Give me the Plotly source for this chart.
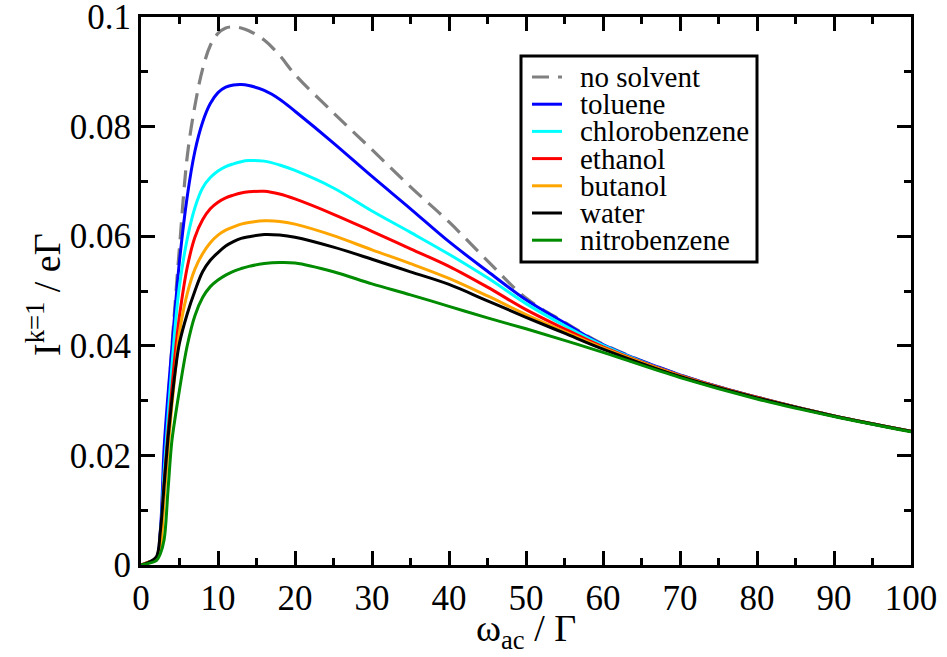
import plotly.graph_objects as go

# ---------------- data ----------------
omega = [0, 1, 2, 2.5, 3, 3.5, 4, 4.5, 5, 6, 7, 8, 9, 10, 11, 12, 13, 14, 16, 18, 20,
         25, 30, 35, 40, 45, 50, 55, 60, 70, 80, 90, 100]

no_solvent = [0, 0.0005, 0.001, 0.004, 0.0148, 0.029, 0.0395, 0.049, 0.058, 0.0745,
              0.0838, 0.0905, 0.0948, 0.0970, 0.0980, 0.0982, 0.0980, 0.0975, 0.0958,
              0.0930, 0.0895, 0.0825, 0.0758, 0.069, 0.0626, 0.0555, 0.0487, 0.0443,
              0.0403, 0.0347, 0.0306, 0.0272, 0.0244]
toluene = [0, 0.0005, 0.0012, 0.006, 0.0213, 0.031, 0.0395, 0.0478, 0.0555, 0.0672,
           0.0755, 0.0808, 0.0842, 0.0862, 0.0872, 0.0876, 0.0877, 0.0875, 0.0866,
           0.0850, 0.0828, 0.077, 0.0709, 0.065, 0.059, 0.0536, 0.0484, 0.0442,
           0.0402, 0.0347, 0.0306, 0.0272, 0.0244]
chlorobenzene = [0, 0.0005, 0.001, 0.005, 0.017, 0.027, 0.036, 0.0445, 0.051, 0.0595,
                 0.0652, 0.0688, 0.0707, 0.0719, 0.0727, 0.0732, 0.0736, 0.0738, 0.0737,
                 0.0730, 0.0720, 0.0688, 0.0646, 0.0607, 0.0567, 0.0524, 0.0477, 0.0437,
                 0.0401, 0.0346, 0.0306, 0.0272, 0.0244]
ethanol = [0, 0.0005, 0.001, 0.004, 0.015, 0.024, 0.032, 0.0395, 0.0455, 0.0543,
           0.0598, 0.0630, 0.0650, 0.0662, 0.0670, 0.0675, 0.0679, 0.0681, 0.0682,
           0.0677, 0.0668, 0.064, 0.0609, 0.0577, 0.0545, 0.0507, 0.0466, 0.0431,
           0.0398, 0.0346, 0.0306, 0.0272, 0.0244]
butanol = [0, 0.0005, 0.001, 0.003, 0.012, 0.021, 0.029, 0.036, 0.0425, 0.0495,
           0.0540, 0.0568, 0.0588, 0.0602, 0.0611, 0.0617, 0.0622, 0.0625, 0.0628,
           0.0627, 0.0622, 0.0601, 0.0575, 0.055, 0.0523, 0.0491, 0.0457, 0.0426,
           0.0396, 0.0345, 0.0305, 0.0272, 0.0244]
water = [0, 0.0005, 0.0015, 0.006, 0.0145, 0.023, 0.030, 0.036, 0.0405, 0.0458,
         0.0500, 0.0535, 0.0556, 0.0570, 0.0582, 0.0590, 0.0596, 0.0599, 0.0603,
         0.0602, 0.0598, 0.058, 0.0558, 0.0535, 0.0512, 0.0482, 0.0452, 0.0423,
         0.0394, 0.0344, 0.0305, 0.0272, 0.0244]
nitrobenzene = [0, 0.0003, 0.0008, 0.002, 0.0046, 0.0135, 0.0225, 0.0275, 0.032, 0.040,
                0.0455, 0.0488, 0.0508, 0.0520, 0.0529, 0.0536, 0.0541, 0.0545, 0.0550,
                0.0552, 0.0551, 0.0535, 0.0513, 0.0493, 0.0472, 0.0451, 0.0431, 0.041,
                0.0388, 0.0342, 0.0303, 0.0271, 0.0243]

series_names = ["no solvent", "toluene", "chlorobenzene", "ethanol", "butanol",
                "water", "nitrobenzene"]
series_values = [no_solvent, toluene, chlorobenzene, ethanol, butanol, water, nitrobenzene]
series_colors = ["#808080", "#0000ff", "#00ffff", "#ff0000", "#ffa500", "#000000", "#008b00"]
series_dash = ["17px,9px", "solid", "solid", "solid", "solid", "solid", "solid"]

x_tickvals = [0, 10, 20, 30, 40, 50, 60, 70, 80, 90, 100]
x_ticktext = ["0", "10", "20", "30", "40", "50", "60", "70", "80", "90", "100"]
y_tickvals = [0, 0.02, 0.04, 0.06, 0.08, 0.1]
y_ticktext = ["0", "0.02", "0.04", "0.06", "0.08", "0.1"]

x_title = "ω<sub>ac</sub> / Γ"
y_title = "I<sup>k=1</sup> / eΓ"

# ---------------- figure ----------------
W, H = 947, 657
ML, MR, MT, MB = 141, 36, 17, 92
FONT = "Liberation Serif"

fig = go.Figure()
for name, vals, col, dash in zip(series_names, series_values, series_colors, series_dash):
    fig.add_trace(go.Scatter(x=omega, y=vals, mode="lines", name=name,
                             line=dict(color=col, width=3.2 if dash != "solid" else 3,
                                       dash=dash, shape="spline", smoothing=1.0),
                             showlegend=False))

axis_common = dict(showline=True, linewidth=3, linecolor="black", mirror="allticks",
                   ticks="inside", ticklen=14, tickwidth=3, tickcolor="black",
                   showgrid=False, zeroline=False, ticklabeloverflow="allow",
                   automargin=False,
                   tickfont=dict(family=FONT, size=35, color="black"))

fig.update_xaxes(range=[0, 100], tickvals=x_tickvals, ticktext=x_ticktext,
                 minor=dict(ticks="inside", ticklen=7, tickwidth=3, tickcolor="black", dtick=5,
                            showgrid=False),
                 **axis_common)
fig.update_yaxes(range=[0, 0.1], tickvals=y_tickvals, ticktext=y_ticktext,
                 minor=dict(ticks="inside", ticklen=7, tickwidth=3, tickcolor="black", dtick=0.01,
                            showgrid=False),
                 **axis_common)

# ---------------- axis titles + custom legend (paper coords from pixels) ----------------
pw, ph = W - ML - MR, H - MT - MB
def px_x(p):
    return (p - ML) / pw
def px_y(p):
    return (H - MB - p) / ph

annotations = [
    dict(xref="paper", yref="paper", x=0.5, y=px_y(631), xanchor="center", yanchor="middle",
         text=x_title, showarrow=False, font=dict(family=FONT, size=38, color="black")),
    dict(xref="paper", yref="paper", x=px_x(44), y=px_y(295), xanchor="center", yanchor="middle",
         text=y_title, textangle=-90, showarrow=False,
         font=dict(family=FONT, size=38, color="black")),
]
shapes = [dict(type="rect", xref="paper", yref="paper",
               x0=px_x(521), x1=px_x(757), y0=px_y(262), y1=px_y(56),
               line=dict(color="black", width=3), fillcolor="white", layer="above")]
row0, row_step = 77, 27.2
for i, (name, col, dash) in enumerate(zip(series_names, series_colors, series_dash)):
    yy = px_y(row0 + i * row_step)
    shapes.append(dict(type="line", xref="paper", yref="paper",
                       x0=px_x(532), x1=px_x(562), y0=yy, y1=yy,
                       line=dict(color=col, width=3.2 if dash != "solid" else 3, dash=dash),
                       layer="above"))
    annotations.append(dict(xref="paper", yref="paper", x=px_x(578), y=yy,
                            xanchor="left", yanchor="middle", text=name, showarrow=False,
                            font=dict(family=FONT, size=29, color="black")))

fig.update_layout(width=W, height=H, margin=dict(l=ML, r=MR, t=MT, b=MB),
                  paper_bgcolor="white", plot_bgcolor="white",
                  shapes=shapes, annotations=annotations, showlegend=False)

fig.write_html("out.html")
